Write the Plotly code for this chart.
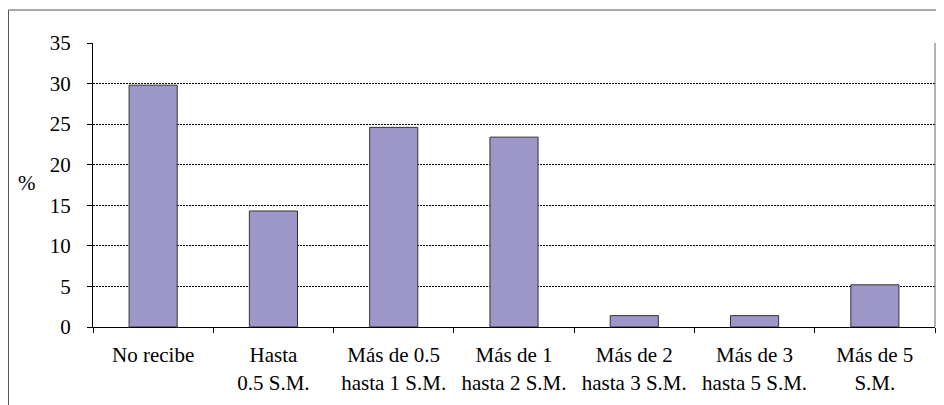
import plotly.graph_objects as go

categories = ["No recibe", "Hasta<br>0.5 S.M.", "Más de 0.5<br>hasta 1 S.M.", "Más de 1<br>hasta 2 S.M.",
              "Más de 2<br>hasta 3 S.M.", "Más de 3<br>hasta 5 S.M.", "Más de 5<br>S.M."]
values = [29.8, 14.3, 24.6, 23.4, 1.4, 1.4, 5.2]
y_ticks = [0, 5, 10, 15, 20, 25, 30, 35]

# page body has an 8px margin, so the figure is offset by 8px
OFF = 8
W, H = 944 - OFF, 405 - OFF
L, R, T, B = 93 - OFF, 944 - 935, 43 - OFF, 405 - 327
pw, ph = W - L - R, H - T - B

FAM = "Liberation Serif"
FS = 21

fig = go.Figure(go.Bar(
    x=categories, y=values,
    marker=dict(color="#9C97C8", line=dict(color="#333333", width=1)),
    width=0.4,
))

fig.update_layout(
    width=W, height=H,
    margin=dict(l=L, r=R, t=T, b=B),
    paper_bgcolor="white", plot_bgcolor="white",
    showlegend=False,
    font=dict(family=FAM, size=FS, color="black"),
    bargap=0.6,
)
fig.update_xaxes(
    type="category",
    showline=True, linecolor="black", linewidth=1,
    ticks="outside", ticklen=5, tickcolor="black", tickson="boundaries",
    showgrid=False, tickfont=dict(family=FAM, size=FS, color="black"), ticklabelstandoff=9,
)
fig.update_yaxes(
    range=[0, 35], tickvals=y_ticks,
    showline=True, linecolor="black", linewidth=1,
    ticks="outside", ticklen=5, tickcolor="black",
    showgrid=True, gridcolor="black", gridwidth=1, griddash="2px,1px",
    zeroline=False, tickfont=dict(family=FAM, size=FS, color="black"), ticklabelstandoff=12,
)

# y axis title "%"
fig.add_annotation(text="%", xref="paper", yref="paper", x=(27 - OFF - L) / pw, y=(H - B - (183 - OFF)) / ph,
                   showarrow=False, font=dict(family=FAM, size=FS, color="black"),
                   xanchor="center", yanchor="middle")

# right border of plot area
fig.add_shape(type="line", xref="paper", yref="paper", x0=1, x1=1, y0=0, y1=1,
              line=dict(color="#666666", width=1))

# outer frame (top and left edges)
x_left = (0.5 - L) / pw
y_top = (H - B - (10 - OFF)) / ph
fig.add_shape(type="line", xref="paper", yref="paper", x0=x_left, x1=(W - L + 5) / pw, y0=y_top, y1=y_top,
              line=dict(color="#555555", width=1))
fig.add_shape(type="line", xref="paper", yref="paper", x0=x_left, x1=x_left, y0=y_top, y1=(-B - 5) / ph,
              line=dict(color="#555555", width=1))

fig.write_html("out.html")
